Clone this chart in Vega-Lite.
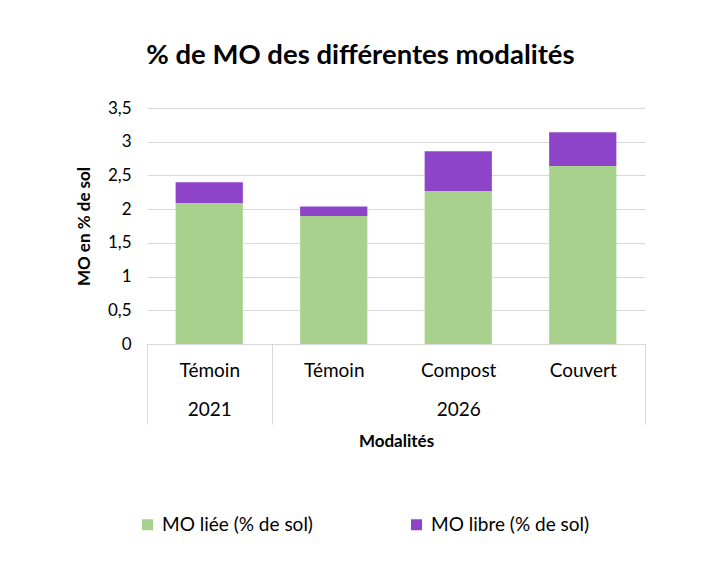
{
  "$schema": "https://vega.github.io/schema/vega-lite/v6.json",
  "width": 498,
  "height": 236,
  "padding": {"left": 75, "top": 41, "right": 71, "bottom": 20},
  "background": "white",
  "title": {
    "text": "% de MO des différentes modalités",
    "font": "Lato",
    "fontSize": 27.5,
    "fontWeight": "bold",
    "color": "#000000",
    "anchor": "middle",
    "frame": "bounds",
    "offset": 30
  },
  "data": {
    "values": [
      {"id": "Témoin|2021", "annee": "2021", "modalite": "Témoin", "type": "MO liée (% de sol)", "ordre": 1, "valeur": 2.09},
      {"id": "Témoin|2021", "annee": "2021", "modalite": "Témoin", "type": "MO libre (% de sol)", "ordre": 2, "valeur": 0.31},
      {"id": "Témoin|2026", "annee": "2026", "modalite": "Témoin", "type": "MO liée (% de sol)", "ordre": 1, "valeur": 1.90},
      {"id": "Témoin|2026", "annee": "2026", "modalite": "Témoin", "type": "MO libre (% de sol)", "ordre": 2, "valeur": 0.14},
      {"id": "Compost|2026", "annee": "2026", "modalite": "Compost", "type": "MO liée (% de sol)", "ordre": 1, "valeur": 2.27},
      {"id": "Compost|2026", "annee": "2026", "modalite": "Compost", "type": "MO libre (% de sol)", "ordre": 2, "valeur": 0.59},
      {"id": "Couvert|2026", "annee": "2026", "modalite": "Couvert", "type": "MO liée (% de sol)", "ordre": 1, "valeur": 2.64},
      {"id": "Couvert|2026", "annee": "2026", "modalite": "Couvert", "type": "MO libre (% de sol)", "ordre": 2, "valeur": 0.50}
    ]
  },
  "mark": {"type": "bar", "width": {"band": 0.54}},
  "encoding": {
    "x": {
      "field": "id",
      "type": "nominal",
      "sort": ["Témoin|2021", "Témoin|2026", "Compost|2026", "Couvert|2026"],
      "scale": {"paddingInner": 0, "paddingOuter": 0},
      "axis": {
        "title": "Modalités",
        "titleFont": "Lato",
        "titleFontSize": 17,
        "titleFontWeight": "bold",
        "titleColor": "#000000",
        "titlePadding": 9,
        "labelFont": "Lato",
        "labelFontSize": 19,
        "labelColor": "#000000",
        "labelAngle": 0,
        "labelBaseline": "top",
        "labelLineHeight": 39,
        "labelPadding": -63,
        "labelExpr": "!isString(datum.value) ? '' : (datum.value === 'Témoin|2021' ? ['Témoin', '2021'] : (datum.value === 'Compost|2026' ? ['Compost', '2026'] : split(datum.value, '|')[0]))",
        "domainColor": "#D9D9D9",
        "domainWidth": 1,
        "ticks": true,
        "tickBand": "extent",
        "tickSize": 80,
        "tickWidth": 1,
        "tickColor": {
          "condition": {"test": "(datum.value === 'Témoin|2026' || datum.value === 'Compost|2026') && !datum.extra", "value": "transparent"},
          "value": "#D9D9D9"
        },
        "grid": false
      }
    },
    "y": {
      "field": "valeur",
      "type": "quantitative",
      "stack": "zero",
      "scale": {"domain": [0, 3.5], "nice": false},
      "axis": {
        "title": "MO en % de sol",
        "titleFont": "Lato",
        "titleFontSize": 17,
        "titleFontWeight": "bold",
        "titleColor": "#000000",
        "titlePadding": 14,
        "values": [0, 0.5, 1, 1.5, 2, 2.5, 3, 3.5],
        "labelExpr": "replace(format(datum.value, '.2~f'), '.', ',')",
        "labelFont": "Lato",
        "labelFontSize": 17,
        "labelColor": "#000000",
        "labelPadding": 16,
        "ticks": false,
        "domain": false,
        "grid": true,
        "gridColor": "#D9D9D9",
        "gridWidth": 1
      }
    },
    "color": {
      "field": "type",
      "type": "nominal",
      "scale": {
        "domain": ["MO liée (% de sol)", "MO libre (% de sol)"],
        "range": ["#A9D18E", "#8E44C8"]
      },
      "legend": {
        "title": null,
        "orient": "none",
        "legendX": -9,
        "legendY": 407,
        "direction": "horizontal",
        "symbolType": "square",
        "symbolSize": 120,
        "symbolStrokeWidth": 0,
        "labelFont": "Lato",
        "labelFontSize": 19,
        "labelColor": "#000000",
        "columnPadding": 94,
        "labelOffset": 5
      }
    },
    "order": {"field": "ordre", "type": "quantitative"}
  },
  "config": {
    "view": {"stroke": null},
    "font": "Lato"
  }
}
